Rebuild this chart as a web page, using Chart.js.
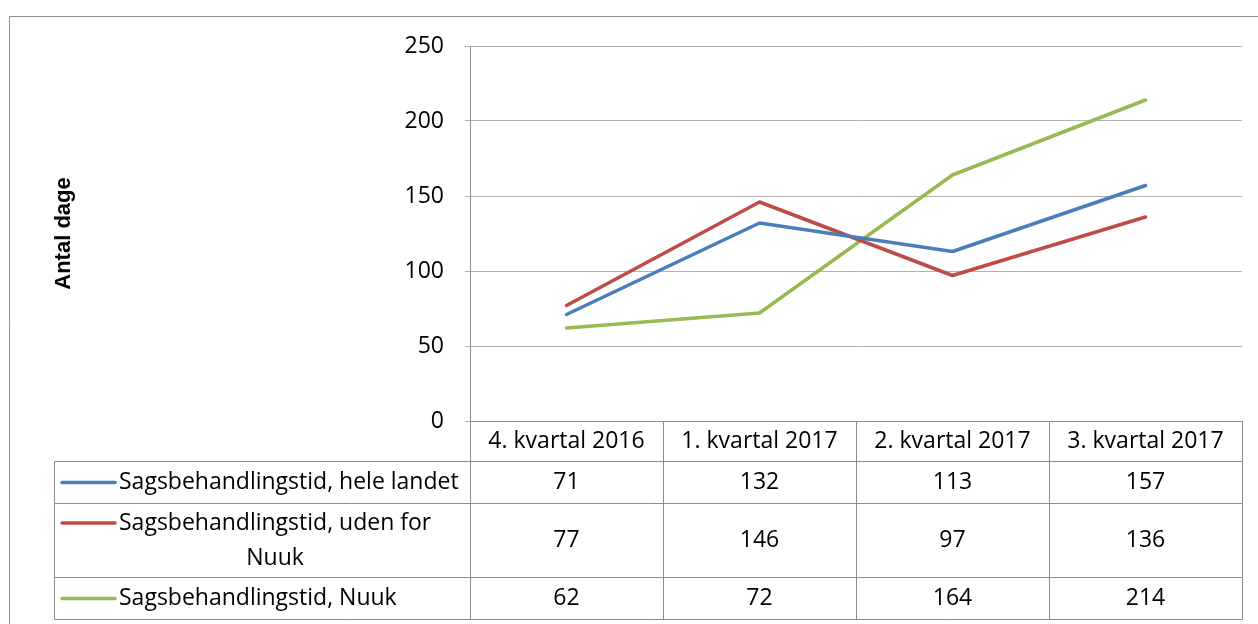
<!DOCTYPE html>
<html><head><meta charset="utf-8">
<script src="https://cdn.jsdelivr.net/npm/chart.js@4.4.1/dist/chart.umd.min.js"></script>
<style>html,body{margin:0;padding:0;background:#fff}#wrap{width:1258px;height:624px}</style>
</head><body><div id="wrap"><canvas id="c" width="1258" height="624"></canvas></div>
<script>
const categories = ['4. kvartal 2016', '1. kvartal 2017', '2. kvartal 2017', '3. kvartal 2017'];
const seriesNames = ['Sagsbehandlingstid, hele landet', 'Sagsbehandlingstid, uden for Nuuk', 'Sagsbehandlingstid, Nuuk'];
const heleLandet = [71, 132, 113, 157];
const udenForNuuk = [77, 146, 97, 136];
const nuuk = [62, 72, 164, 214];
const yTickValues = [0, 50, 100, 150, 200, 250];
const yTitle = 'Antal dage';
const seriesColors = ['#4A7EBB', '#BE4B48', '#98B954'];

const seriesData = [heleLandet, udenForNuuk, nuuk];
const FONT = '23px "Open Sans"';
const GRID = '#b3b3b3';
const LINE = '#8c8c8c';

function wrapText(ctx, text, maxW) {
  const words = text.split(' ');
  const lines = [];
  let cur = '';
  for (const w of words) {
    const t = cur ? cur + ' ' + w : w;
    if (ctx.measureText(t).width > maxW && cur) { lines.push(cur); cur = w; }
    else cur = t;
  }
  if (cur) lines.push(cur);
  return lines;
}

const frameAndTable = {
  id: 'frameAndTable',
  beforeDraw(chart) {
    const ctx = chart.ctx;
    ctx.save();
    ctx.fillStyle = '#fff';
    ctx.fillRect(0, 0, chart.width, chart.height);
    ctx.strokeStyle = '#8c8c8c';
    ctx.lineWidth = 1;
    ctx.beginPath();
    ctx.moveTo(9.5, chart.height);
    ctx.lineTo(9.5, 16.5);
    ctx.lineTo(chart.width, 16.5);
    ctx.stroke();
    ctx.restore();
  },
  afterDraw(chart) {
    const ctx = chart.ctx;
    const a = chart.chartArea;
    const x = chart.scales.x;
    const n = categories.length;
    const rowH = [40, 42, 74, 42];
    const legendLeft = 54.5;
    const ys = [Math.round(a.bottom) + 0.5];
    rowH.forEach(h => ys.push(ys[ys.length - 1] + h));
    const bounds = [a.left];
    for (let i = 0; i < n - 1; i++) bounds.push((x.getPixelForValue(i) + x.getPixelForValue(i + 1)) / 2);
    bounds.push(a.right);
    const bx = bounds.map(b => Math.round(b) + 0.5);

    ctx.save();
    ctx.strokeStyle = LINE;
    ctx.lineWidth = 1;
    ctx.beginPath();
    ctx.moveTo(bx[0], ys[0]); ctx.lineTo(bx[n], ys[0]);
    for (let r = 1; r < ys.length; r++) { ctx.moveTo(legendLeft, ys[r]); ctx.lineTo(bx[n], ys[r]); }
    bx.forEach(b => { ctx.moveTo(b, ys[0]); ctx.lineTo(b, ys[ys.length - 1]); });
    ctx.moveTo(legendLeft, ys[1]); ctx.lineTo(legendLeft, ys[ys.length - 1]);
    ctx.stroke();

    ctx.font = FONT;
    ctx.fillStyle = '#000';
    ctx.textBaseline = 'middle';
    ctx.textAlign = 'center';
    categories.forEach((c, i) => ctx.fillText(c, x.getPixelForValue(i), (ys[0] + ys[1]) / 2));

    const keyL = 62, keyR = 115, textL = 119;
    const maxW = bx[0] - textL - 4;
    seriesNames.forEach((name, s) => {
      const rTop = ys[s + 1], rBot = ys[s + 2];
      const mid = (rTop + rBot) / 2;
      seriesData[s].forEach((v, i) => {
        ctx.textAlign = 'center';
        ctx.fillText(String(v), x.getPixelForValue(i), mid);
      });
      const lines = wrapText(ctx, name, maxW);
      const lh = 35;
      const firstY = mid - (lines.length - 1) * lh / 2;
      const widest = Math.max(...lines.map(l => ctx.measureText(l).width));
      lines.forEach((l, k) => {
        if (lines.length === 1) { ctx.textAlign = 'left'; ctx.fillText(l, textL, firstY); }
        else { ctx.textAlign = 'center'; ctx.fillText(l, textL + widest / 2, firstY + k * lh); }
      });
      ctx.strokeStyle = seriesColors[s];
      ctx.lineWidth = 3.5;
      ctx.lineCap = 'round';
      ctx.beginPath();
      ctx.moveTo(keyL, firstY);
      ctx.lineTo(keyR, firstY);
      ctx.stroke();
    });
    ctx.restore();
  }
};

new Chart(document.getElementById('c'), {
  type: 'line',
  data: {
    labels: categories,
    datasets: seriesNames.map((name, s) => ({
      label: name,
      data: seriesData[s],
      borderColor: seriesColors[s],
      backgroundColor: seriesColors[s],
      borderWidth: 3.5,
      pointRadius: 0,
      pointHoverRadius: 0,
      tension: 0,
      borderCapStyle: 'round',
      borderJoinStyle: 'round',
      fill: false
    }))
  },
  options: {
    responsive: false,
    animation: false,
    events: [],
    layout: { padding: { left: 0, top: 46, right: 16, bottom: 0 } },
    plugins: { legend: { display: false }, tooltip: { enabled: false }, title: { display: false } },
    scales: {
      x: {
        offset: true,
        grid: { display: false },
        border: { display: false },
        ticks: { display: false },
        afterFit(scale) { scale.height = 203; }
      },
      y: {
        min: yTickValues[0],
        max: yTickValues[yTickValues.length - 1],
        afterBuildTicks(scale) { scale.ticks = yTickValues.map(v => ({ value: v })); },
        grid: { color: GRID, lineWidth: 1, tickLength: 5, drawTicks: true },
        border: { display: true, color: LINE, width: 1 },
        ticks: { font: { family: 'Open Sans', size: 23 }, color: '#000', padding: 21 },
        title: {
          display: true,
          text: yTitle,
          color: '#000',
          font: { family: 'Liberation Sans', size: 22, weight: 'bold' },
          padding: { top: 51, bottom: 0 }
        },
        afterFit(scale) { scale.width = 470; }
      }
    }
  },
  plugins: [frameAndTable]
});
</script>
</body></html>
